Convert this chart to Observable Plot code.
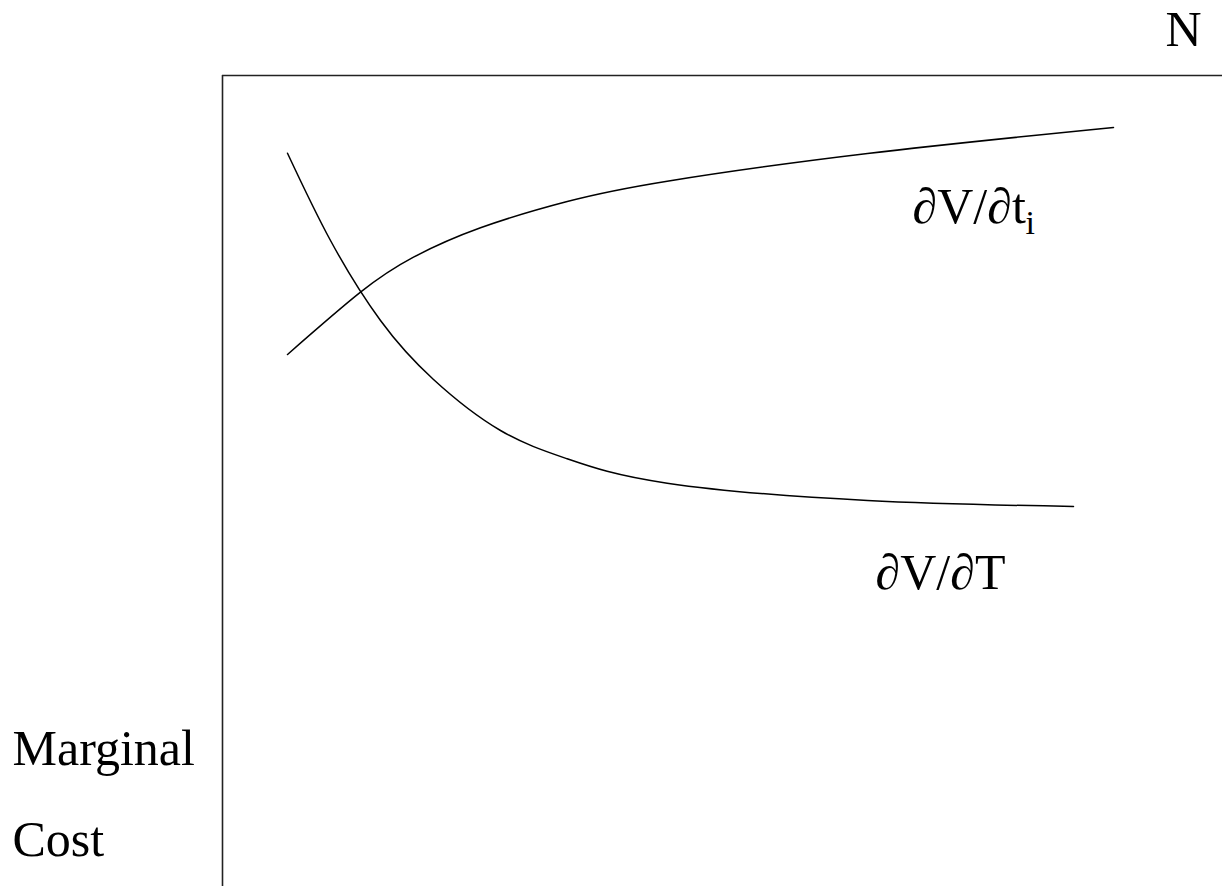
<!DOCTYPE html>
<html>
<head>
<meta charset="utf-8">
<script src="https://cdn.jsdelivr.net/npm/d3@7"></script>
<script src="https://cdn.jsdelivr.net/npm/@observablehq/plot@0.6"></script>
<style>
  html, body { margin: 0; padding: 0; background: white; }
</style>
</head>
<body>
<div id="chart"></div>
<script>
// Curve ∂V/∂T (decreasing)
const curveTX = [65, 108, 158, 211, 278, 344.7, 444.7, 645, 851];
const curveTY = [733.3, 646, 566, 507, 456, 427.7, 403.3, 386, 380];
// Curve ∂V/∂t_i (increasing)
const curveTiX = [65, 138, 191, 258, 344.7, 444.7, 645, 891];
const curveTiY = [532, 594.3, 629.3, 658.7, 685, 705.3, 733, 759];

// Axis extents
const xDomain = [0, 1000];
const yDomain = [0, 811];

// Text labels
const labelText = ["N", "Marginal", "Cost", "∂V/∂t", "∂V/∂T"];
const labelX = [943, -210, -210, 690, 653];
const labelY = [841, 122, 31, 664, 298];
const labelSize = [50, 50, 50, 50, 50];
const subText = ["i"];
const subX = [803];
const subY = [653];

const curveT = curveTX.map((x, i) => ({x, y: curveTY[i]}));
const curveTi = curveTiX.map((x, i) => ({x, y: curveTiY[i]}));
const labels = labelText.map((t, i) => ({t, x: labelX[i], y: labelY[i], s: labelSize[i]}));
const subs = subText.map((t, i) => ({t, x: subX[i], y: subY[i]}));

const chart = Plot.plot({
  width: 1222,
  height: 886,
  marginLeft: 222,
  marginRight: 0,
  marginTop: 75,
  marginBottom: 0,
  x: {domain: xDomain, axis: null},
  y: {domain: yDomain, axis: null},
  style: {fontFamily: "'Liberation Serif', 'Times New Roman', serif", background: "white", overflow: "visible"},
  marks: [
    Plot.ruleX([xDomain[0]], {stroke: "#222", strokeWidth: 1.6}),
    Plot.ruleY([yDomain[1]], {stroke: "#222", strokeWidth: 1.6}),
    Plot.line(curveT, {x: "x", y: "y", curve: "natural", stroke: "black", strokeWidth: 1.5}),
    Plot.line(curveTi, {x: "x", y: "y", curve: "natural", stroke: "black", strokeWidth: 1.5}),
    ...labels.map(d => Plot.text([d], {x: "x", y: "y", text: "t", textAnchor: "start", lineAnchor: "bottom", fontSize: d.s, fill: "black"})),
    Plot.text(subs, {x: "x", y: "y", text: "t", textAnchor: "start", lineAnchor: "bottom", fontSize: 34, fill: "black"})
  ]
});
document.getElementById("chart").appendChild(chart);
</script>
</body>
</html>
